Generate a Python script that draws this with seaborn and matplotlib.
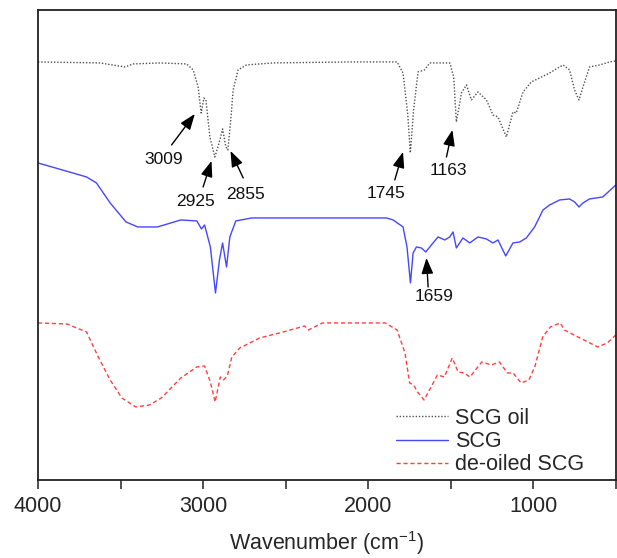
import pandas as pd
import seaborn as sns
import matplotlib.pyplot as plt
from matplotlib.ticker import MultipleLocator
from matplotlib.lines import Line2D

# FTIR spectra, transmittance in arbitrary units (curves are offset)
oil_wn = [4000, 3625, 3474, 3423, 3261, 3100, 3060, 3030, 3012, 2995, 2983, 2959, 2929,
          2903, 2882, 2862, 2850, 2834, 2818, 2788, 2737, 2576, 2111, 1825, 1789, 1760,
          1745, 1725, 1698, 1659, 1627, 1506, 1482, 1466, 1435, 1405, 1375, 1335, 1284,
          1244, 1214, 1163, 1123, 1103, 1062, 1012, 961, 901, 820, 780, 750, 723, 699,
          659, 598, 537, 500]
oil_t = [4.18, 4.17, 4.13, 4.16, 4.17, 4.16, 4.10, 3.93, 3.67, 3.82, 3.80, 3.43, 3.23,
         3.37, 3.51, 3.33, 3.30, 3.57, 3.90, 4.10, 4.15, 4.17, 4.18, 4.18, 4.07, 3.65,
         3.27, 3.70, 4.08, 4.10, 4.17, 4.17, 4.03, 3.58, 3.87, 3.95, 3.80, 3.88, 3.80,
         3.65, 3.63, 3.43, 3.68, 3.67, 3.88, 3.98, 4.02, 4.07, 4.15, 4.10, 3.90, 3.80, 3.93,
         4.13, 4.15, 4.18, 4.19]

scg_wn = [4000, 3706, 3646, 3563, 3467, 3396, 3277, 3135, 3038, 3010, 2991, 2956, 2925,
          2901, 2882, 2858, 2838, 2802, 2705, 1889, 1849, 1789, 1765, 1744, 1728, 1708,
          1678, 1651, 1617, 1577, 1536, 1506, 1486, 1466, 1426, 1385, 1335, 1284, 1244,
          1214, 1167, 1123, 1082, 1042, 992, 941, 901, 840, 780, 750, 723, 699, 659, 579, 500]
scg_t = [3.17, 3.03, 2.97, 2.77, 2.58, 2.53, 2.53, 2.60, 2.59, 2.51, 2.55, 2.33, 1.87,
         2.20, 2.37, 2.13, 2.43, 2.59, 2.62, 2.62, 2.60, 2.53, 2.33, 1.97, 2.27, 2.33,
         2.32, 2.28, 2.35, 2.43, 2.40, 2.43, 2.48, 2.32, 2.42, 2.37, 2.43, 2.41, 2.37,
         2.40, 2.24, 2.37, 2.38, 2.42, 2.53, 2.70, 2.75, 2.80, 2.81, 2.78, 2.73, 2.77,
         2.81, 2.83, 2.95]

deoil_wn = [4000, 3825, 3706, 3635, 3563, 3492, 3408, 3325, 3253, 3135, 3038, 2991, 2956,
            2927, 2896, 2877, 2853, 2826, 2778, 2657, 2515, 2385, 2361, 2277, 1896, 1825,
            1777, 1749, 1725, 1701, 1662, 1622, 1581, 1538, 1491, 1455, 1419, 1384, 1312,
            1253, 1205, 1157, 1122, 1074, 1027, 991, 943, 897, 836, 812, 717, 610, 552, 500]
deoil_t = [1.57, 1.56, 1.48, 1.23, 1.00, 0.82, 0.73, 0.75, 0.82, 1.02, 1.13, 1.14, 0.98,
           0.78, 1.03, 1.00, 1.04, 1.23, 1.32, 1.42, 1.48, 1.54, 1.50, 1.57, 1.57, 1.50,
           1.27, 0.97, 0.95, 0.88, 0.80, 0.92, 1.05, 1.03, 1.22, 1.08, 1.07, 1.03, 1.18,
           1.15, 1.18, 1.07, 1.07, 0.97, 1.00, 1.13, 1.43, 1.53, 1.57, 1.50, 1.42, 1.33,
           1.37, 1.45]

# peak labels: text, arrow tip (wn, T), arrow tail (wn, T), label position (wn, T)
peak_labels = ['3009', '2925', '2855', '1745', '1163', '1659']
peak_tip = [(3050, 3.66), (2949, 3.19), (2834, 3.29), (1789, 3.28), (1490, 3.50), (1647, 2.22)]
peak_tail = [(3191, 3.35), (3000, 2.93), (2757, 3.02), (1839, 3.00), (1526, 3.23), (1637, 1.93)]
peak_text = [(3237, 3.20), (3045, 2.78), (2741, 2.85), (1893, 2.86), (1516, 3.09), (1603, 1.83)]

df = pd.concat([
    pd.DataFrame({'wn': oil_wn, 't': oil_t, 'sample': 'SCG oil'}),
    pd.DataFrame({'wn': scg_wn, 't': scg_t, 'sample': 'SCG'}),
    pd.DataFrame({'wn': deoil_wn, 't': deoil_t, 'sample': 'de-oiled SCG'}),
])

sns.set_theme(style='ticks')
plt.rcParams['font.family'] = ['Liberation Sans', 'DejaVu Sans']
plt.rcParams['mathtext.fontset'] = 'custom'
plt.rcParams['mathtext.rm'] = 'Liberation Sans'
plt.rcParams['mathtext.it'] = 'Liberation Sans:italic'

styles = {
    'SCG oil': dict(color='#505050', linestyle=(0, (1, 1.3)), lw=1.0),
    'SCG': dict(color='#4646ff', linestyle='-', lw=1.0),
    'de-oiled SCG': dict(color='#ff4040', linestyle=(0, (3, 2)), lw=1.0),
}

fig = plt.figure(figsize=(6.17, 5.58), dpi=100)
ax = fig.add_axes([0.0616, 0.1398, 0.9365, 0.8424])

for name, st in styles.items():
    sub = df[df['sample'] == name]
    sns.lineplot(data=sub, x='wn', y='t', ax=ax, estimator=None, sort=False,
                 color=st['color'], linestyle=st['linestyle'], lw=st['lw'])

for lab, tip, tail, pos in zip(peak_labels, peak_tip, peak_tail, peak_text):
    ax.annotate('', xy=tip, xytext=tail,
                arrowprops=dict(arrowstyle='-|>,head_length=0.8,head_width=0.3',
                                color='black', lw=1.0, shrinkA=0, shrinkB=0,
                                mutation_scale=12))
    ax.text(pos[0], pos[1], lab, ha='center', va='center', fontsize=12.5, color='#111111')

ax.set_xlim(4000, 500)
ax.set_ylim(0, 4.70)
ax.set_yticks([])
ax.set_ylabel('')
ax.xaxis.set_major_locator(MultipleLocator(1000))
ax.xaxis.set_minor_locator(MultipleLocator(500))
ax.tick_params(axis='x', which='both', direction='out', length=6.5, width=1.1,
               labelsize=15.5, pad=5, color='#222222')
ax.set_xlabel('Wavenumber (cm$^{-1}$)', fontsize=15.5, labelpad=9)
for sp in ax.spines.values():
    sp.set_linewidth(1.3)
    sp.set_color('#222222')

handles = [Line2D([0], [0], **styles[n]) for n in styles]
ax.legend(handles, list(styles), loc='lower right', bbox_to_anchor=(0.972, -0.022),
          frameon=False, fontsize=15.5, handlelength=2.4, handletextpad=0.35,
          labelspacing=0.1, borderpad=0.2)

fig.savefig('out.png', dpi=100)
